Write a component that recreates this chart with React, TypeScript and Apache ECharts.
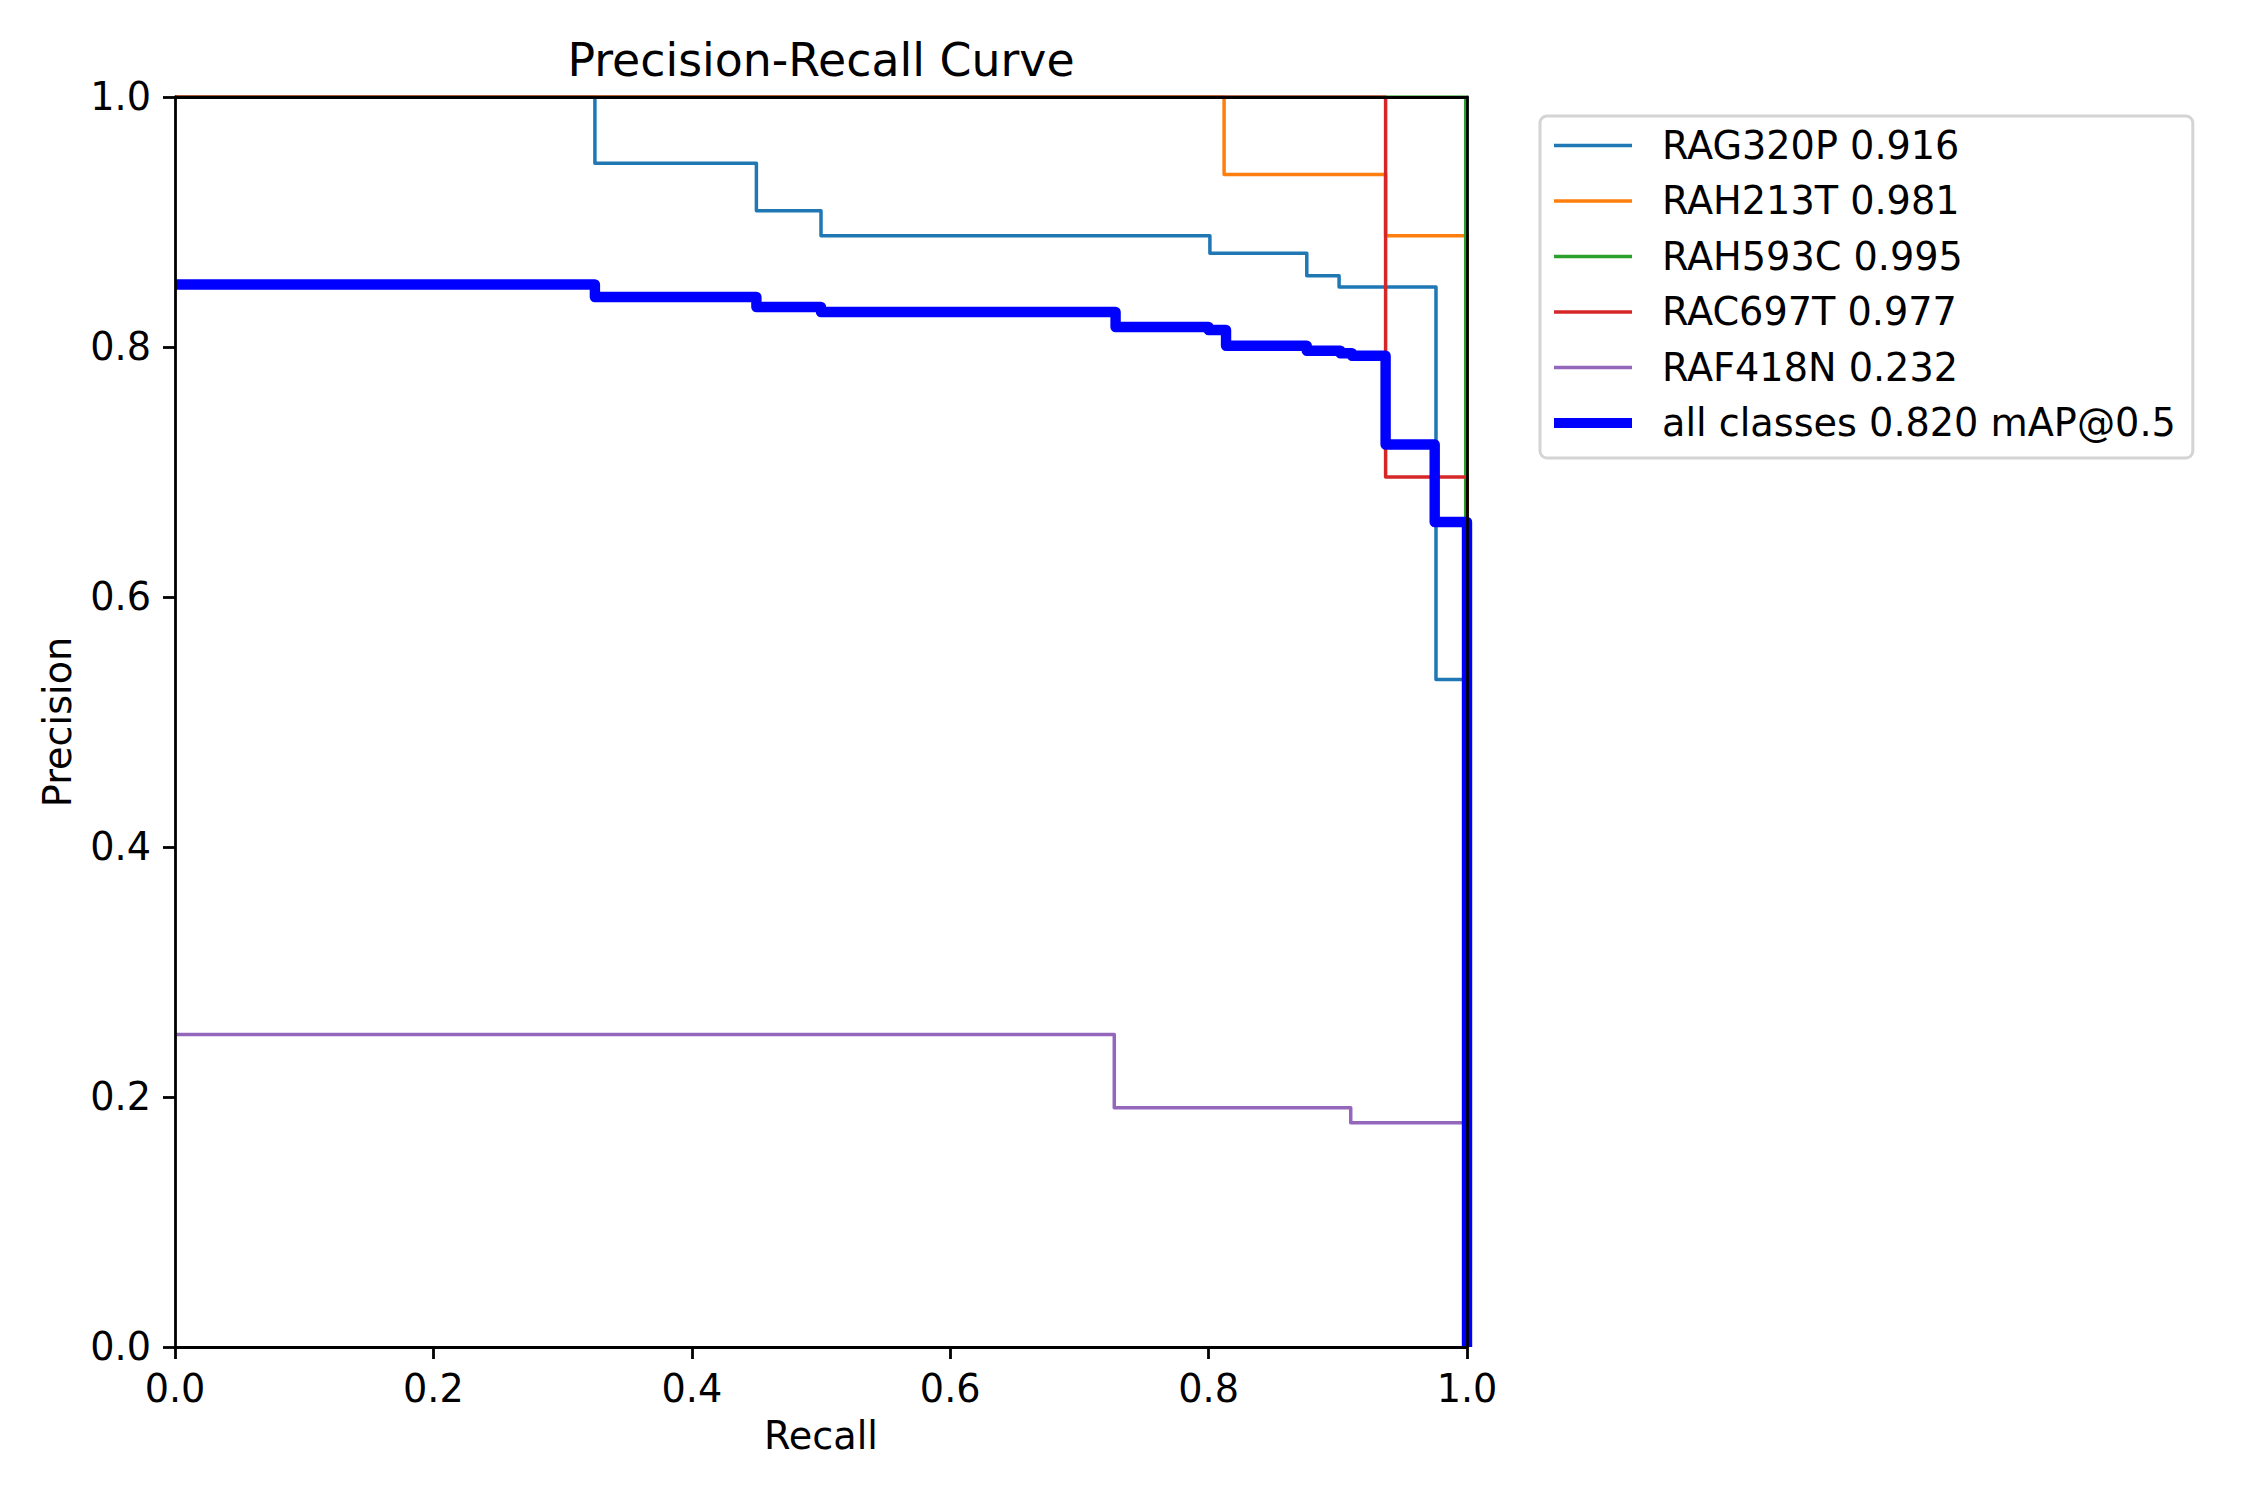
import React, { useEffect, useRef } from "react";
import * as echarts from "echarts";

const FONT = "DejaVu Sans";

const seriesNames = [
  "RAG320P 0.916",
  "RAH213T 0.981",
  "RAH593C 0.995",
  "RAC697T 0.977",
  "RAF418N 0.232",
  "all classes 0.820 mAP@0.5",
];
const seriesColors = ["#1f77b4", "#ff7f0e", "#2ca02c", "#d62728", "#9467bd", "#0000ff"];

// step points: precision holds from recall[i] until recall[i+1]
const recallRAG320P = [0, 0.325, 0.45, 0.5, 0.801, 0.876, 0.901, 0.976, 1.0];
const precisionRAG320P = [1.0, 0.947, 0.909, 0.889, 0.875, 0.857, 0.848, 0.534, 0.0];

const recallRAH213T = [0, 0.812, 0.937, 1.0];
const precisionRAH213T = [1.0, 0.938, 0.889, 0.0];

const recallRAH593C = [0, 0.999, 1.0];
const precisionRAH593C = [1.0, 0.0, 0.0];

const recallRAC697T = [0, 0.937, 1.0];
const precisionRAC697T = [1.0, 0.696, 0.0];

const recallRAF418N = [0, 0.727, 0.91, 1.0];
const precisionRAF418N = [0.25, 0.1915, 0.1795, 0.0];

const recallAll = [0, 0.325, 0.45, 0.5, 0.728, 0.8, 0.8135, 0.876, 0.902, 0.911, 0.937, 0.975, 1.0];
const precisionAll = [0.85, 0.84, 0.832, 0.828, 0.816, 0.8136, 0.801, 0.797, 0.795, 0.793, 0.722, 0.66, 0.0];

const recallSets = [recallRAG320P, recallRAH213T, recallRAH593C, recallRAC697T, recallRAF418N, recallAll];
const precisionSets = [precisionRAG320P, precisionRAH213T, precisionRAH593C, precisionRAC697T, precisionRAF418N, precisionAll];
const lineWidths = [3.5, 3.5, 3.5, 3.5, 3.5, 10.4];

const pair = (xs: number[], ys: number[]) => xs.map((x, i) => [x, ys[i]]);

export default function App() {
  const ref = useRef<HTMLDivElement>(null);
  useEffect(() => {
    if (!ref.current) return;
    const chart = echarts.init(ref.current, null, { renderer: "svg" });
    const axisLine = { show: true, onZero: false, lineStyle: { color: "#000", width: 2.8 } };
    const grid = { left: 175, top: 97, width: 1292, height: 1250, containLabel: false };
    const labelFont = 38.2;
    const option: any = {
      animation: false,
      backgroundColor: "#ffffff",
      title: {
        text: "Precision-Recall Curve",
        left: 821,
        top: 37,
        textAlign: "center",
        padding: 0,
        textStyle: { fontFamily: FONT, fontSize: 45.8, fontWeight: "normal", color: "#000" },
      },
      grid,
      legend: {
        orient: "vertical",
        left: 1540,
        top: 116,
        padding: [10.5, 17, 16, 14],
        itemWidth: 78,
        itemHeight: 38,
        itemGap: 17.5,
        symbolKeepAspect: true,
        borderColor: "#d4d4d4",
        borderWidth: 3,
        borderRadius: 7,
        backgroundColor: "#ffffff",
        textStyle: { fontFamily: FONT, fontSize: labelFont, color: "#000", padding: [0, 0, 0, 25] },
        data: seriesNames.map((name, i) => ({
          name,
          icon: i === 5 ? "path://M0,0H80V10.4H0Z" : "path://M0,0H78V3.5H0Z",
          itemStyle: { color: seriesColors[i], borderWidth: 0 },
        })),
      },
      xAxis: [
        {
          type: "value",
          min: 0,
          max: 1,
          interval: 0.2,
          z: 5,
          name: "Recall",
          nameLocation: "middle",
          nameGap: 70,
          nameTextStyle: { fontFamily: FONT, fontSize: labelFont, color: "#000" },
          axisLine,
          axisTick: { show: true, inside: false, length: 12, lineStyle: { color: "#000", width: 2.8 } },
          axisLabel: {
            margin: 23,
            fontFamily: FONT,
            fontSize: labelFont,
            color: "#000",
            formatter: (v: number) => v.toFixed(1),
          },
          splitLine: { show: false },
        },
        {
          type: "value",
          position: "top",
          min: 0,
          max: 1,
          z: 5,
          axisLine,
          axisTick: { show: false },
          axisLabel: { show: false },
          splitLine: { show: false },
        },
      ],
      yAxis: [
        {
          type: "value",
          min: 0,
          max: 1,
          interval: 0.2,
          z: 5,
          name: "Precision",
          nameLocation: "middle",
          nameGap: 98,
          nameTextStyle: { fontFamily: FONT, fontSize: labelFont, color: "#000" },
          axisLine,
          axisTick: { show: true, inside: false, length: 12, lineStyle: { color: "#000", width: 2.8 } },
          axisLabel: {
            margin: 24,
            fontFamily: FONT,
            fontSize: labelFont,
            color: "#000",
            formatter: (v: number) => v.toFixed(1),
          },
          splitLine: { show: false },
        },
        {
          type: "value",
          position: "right",
          min: 0,
          max: 1,
          z: 5,
          axisLine,
          axisTick: { show: false },
          axisLabel: { show: false },
          splitLine: { show: false },
        },
      ],
      series: seriesNames.map((name, i) => ({
        name,
        type: "line",
        step: "end",
        xAxisIndex: 0,
        yAxisIndex: 0,
        symbol: "none",
        showSymbol: false,
        clip: true,
        color: seriesColors[i],
        lineStyle: { color: seriesColors[i], width: lineWidths[i], join: "round" },
        data: pair(recallSets[i], precisionSets[i]),
        z: 2 + i * 0.01,
      })),
    };
    chart.setOption(option);
    return () => chart.dispose();
  }, []);
  return (
    <div
      ref={ref}
      style={{ position: "fixed", left: 0, top: 0, width: 2250, height: 1500, background: "#fff" }}
    />
  );
}
